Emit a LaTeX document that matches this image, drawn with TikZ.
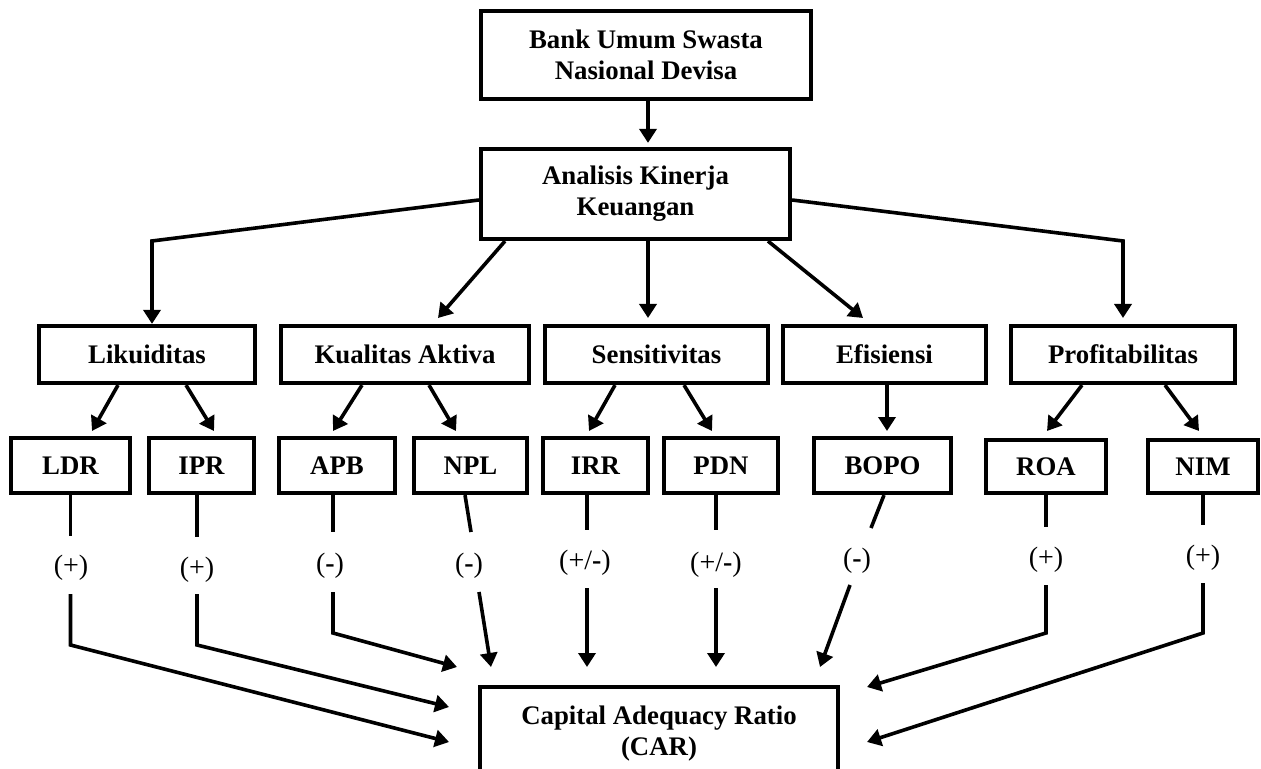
\documentclass[tikz,border=0pt]{standalone}
\usepackage{fontspec}
\setmainfont{Liberation Serif}
\usetikzlibrary{arrows.meta}
\begin{document}
\begin{tikzpicture}[x=0.5pt,y=-0.5pt,
  box/.style={draw,line width=2.1pt,font=\fontsize{13.4}{15.5}\selectfont\bfseries,align=center,inner sep=0pt},
  ln/.style={line width=1.8pt},
  arr/.style={ln,-{Triangle[length=7pt,width=8.5pt]}},
  lab/.style={font=\fontsize{14}{16}\selectfont,inner sep=0pt}]
\clip (0,0) rectangle (1261,769);
% boxes
\node[box,minimum width=165pt,minimum height=44pt] (bank) at (646,55) {Bank Umum Swasta\\Nasional Devisa};
\node[box,minimum width=154.5pt,minimum height=45pt] (ana) at (635.5,194) {Analisis Kinerja\\Keuangan};
\node[box,minimum width=108pt,minimum height=28.5pt] (lik) at (147,354.5) {Likuiditas};
\node[box,minimum width=124pt,minimum height=28.5pt] (kua) at (405,354.5) {Kualitas Aktiva};
\node[box,minimum width=111.5pt,minimum height=28.5pt] (sen) at (656.5,354.5) {Sensitivitas};
\node[box,minimum width=101.5pt,minimum height=28.5pt] (efi) at (884.5,354.5) {Efisiensi};
\node[box,minimum width=112pt,minimum height=28.5pt] (pro) at (1123,354.5) {Profitabilitas};
\node[box,minimum width=59.5pt,minimum height=27.5pt] (ldr) at (70.5,465.5) {LDR};
\node[box,minimum width=52.5pt,minimum height=27.5pt] (ipr) at (201.5,465.5) {IPR};
\node[box,minimum width=58pt,minimum height=27.5pt] (apb) at (337,465.5) {APB};
\node[box,minimum width=56.5pt,minimum height=27.5pt] (npl) at (470.5,465.5) {NPL};
\node[box,minimum width=52.5pt,minimum height=27.5pt] (irr) at (595.5,465.5) {IRR};
\node[box,minimum width=57pt,minimum height=27.5pt] (pdn) at (721,465.5) {PDN};
\node[box,minimum width=68.5pt,minimum height=27.5pt] (bopo) at (882.5,465.5) {BOPO};
\node[box,minimum width=60pt,minimum height=26.5pt] (roa) at (1046,466.5) {ROA};
\node[box,minimum width=55pt,minimum height=26.5pt] (nim) at (1203,466.5) {NIM};
\node[box,minimum width=179pt,minimum height=47pt] (car) at (659,734) {Capital Adequacy Ratio\\(CAR)};
% labels
\node[lab] (l1) at (71,568) {(+)};
\node[lab] (l2) at (197,570) {(+)};
\node[lab] (l3) at (330,566) {(\textbf{-})};
\node[lab] (l4) at (469,566) {(\textbf{-})};
\node[lab] (l5) at (585,563) {(+/\textbf{-})};
\node[lab] (l6) at (716,565) {(+/\textbf{-})};
\node[lab] (l7) at (857,561) {(\textbf{-})};
\node[lab] (l8) at (1046,560) {(+)};
\node[lab] (l9) at (1203,558) {(+)};
% top connectors
\draw[arr,shorten >=2pt] (bank.south -| 648,0) -- (ana.north -| 648,0);
\draw[arr] (ana.west |- 0,200) -- (152,241) -- (lik.north -| 152,0);
\draw[arr] (ana.south -| 505,0) -- (438,318);
\draw[arr] (ana.south -| 648,0) -- (648,318);
\draw[arr] (ana.south -| 768,0) -- (863,318);
\draw[arr] (ana.east |- 0,200) -- (1123,241) -- (1123,318);
% second to third
\draw[arr] (lik.south -| 118,0) -- (92,431);
\draw[arr] (lik.south -| 186,0) -- (214,431);
\draw[arr] (kua.south -| 362,0) -- (333,431);
\draw[arr] (kua.south -| 429,0) -- (456,431);
\draw[arr] (sen.south -| 615,0) -- (589,431);
\draw[arr] (sen.south -| 684,0) -- (712,431);
\draw[arr] (efi.south -| 887,0) -- (887,431);
\draw[arr] (pro.south -| 1082,0) -- (1047,431);
\draw[arr] (pro.south -| 1165,0) -- (1199,431);
% third to labels
\draw[ln] (ldr.south -| 70.5,0) -- (70.5,536);
\draw[ln] (ipr.south -| 197,0) -- (197,537);
\draw[ln] (apb.south -| 333,0) -- (333,532);
\draw[ln] (npl.south -| 465,0) -- (471,532);
\draw[ln] (irr.south -| 587,0) -- (587,530);
\draw[ln] (pdn.south -| 716,0) -- (716,530);
\draw[ln] (bopo.south -| 884,0) -- (871,528);
\draw[ln] (roa.south -| 1046,0) -- (1046,527);
\draw[ln] (nim.south -| 1203,0) -- (1203,525);
% labels to CAR
\draw[arr] (70.5,594) -- (70.5,645) -- (449,742);
\draw[arr] (197,594) -- (197,645) -- (449,707);
\draw[arr] (333,592) -- (333,633) -- (457,667);
\draw[arr] (479,592) -- (491,667);
\draw[arr] (587,588) -- (587,667);
\draw[arr] (716,588) -- (716,667);
\draw[arr] (850,585) -- (820,667);
\draw[arr] (1046,585) -- (1046,633) -- (867,687);
\draw[arr] (1203,583) -- (1203,633) -- (867,742);
\end{tikzpicture}
\end{document}
